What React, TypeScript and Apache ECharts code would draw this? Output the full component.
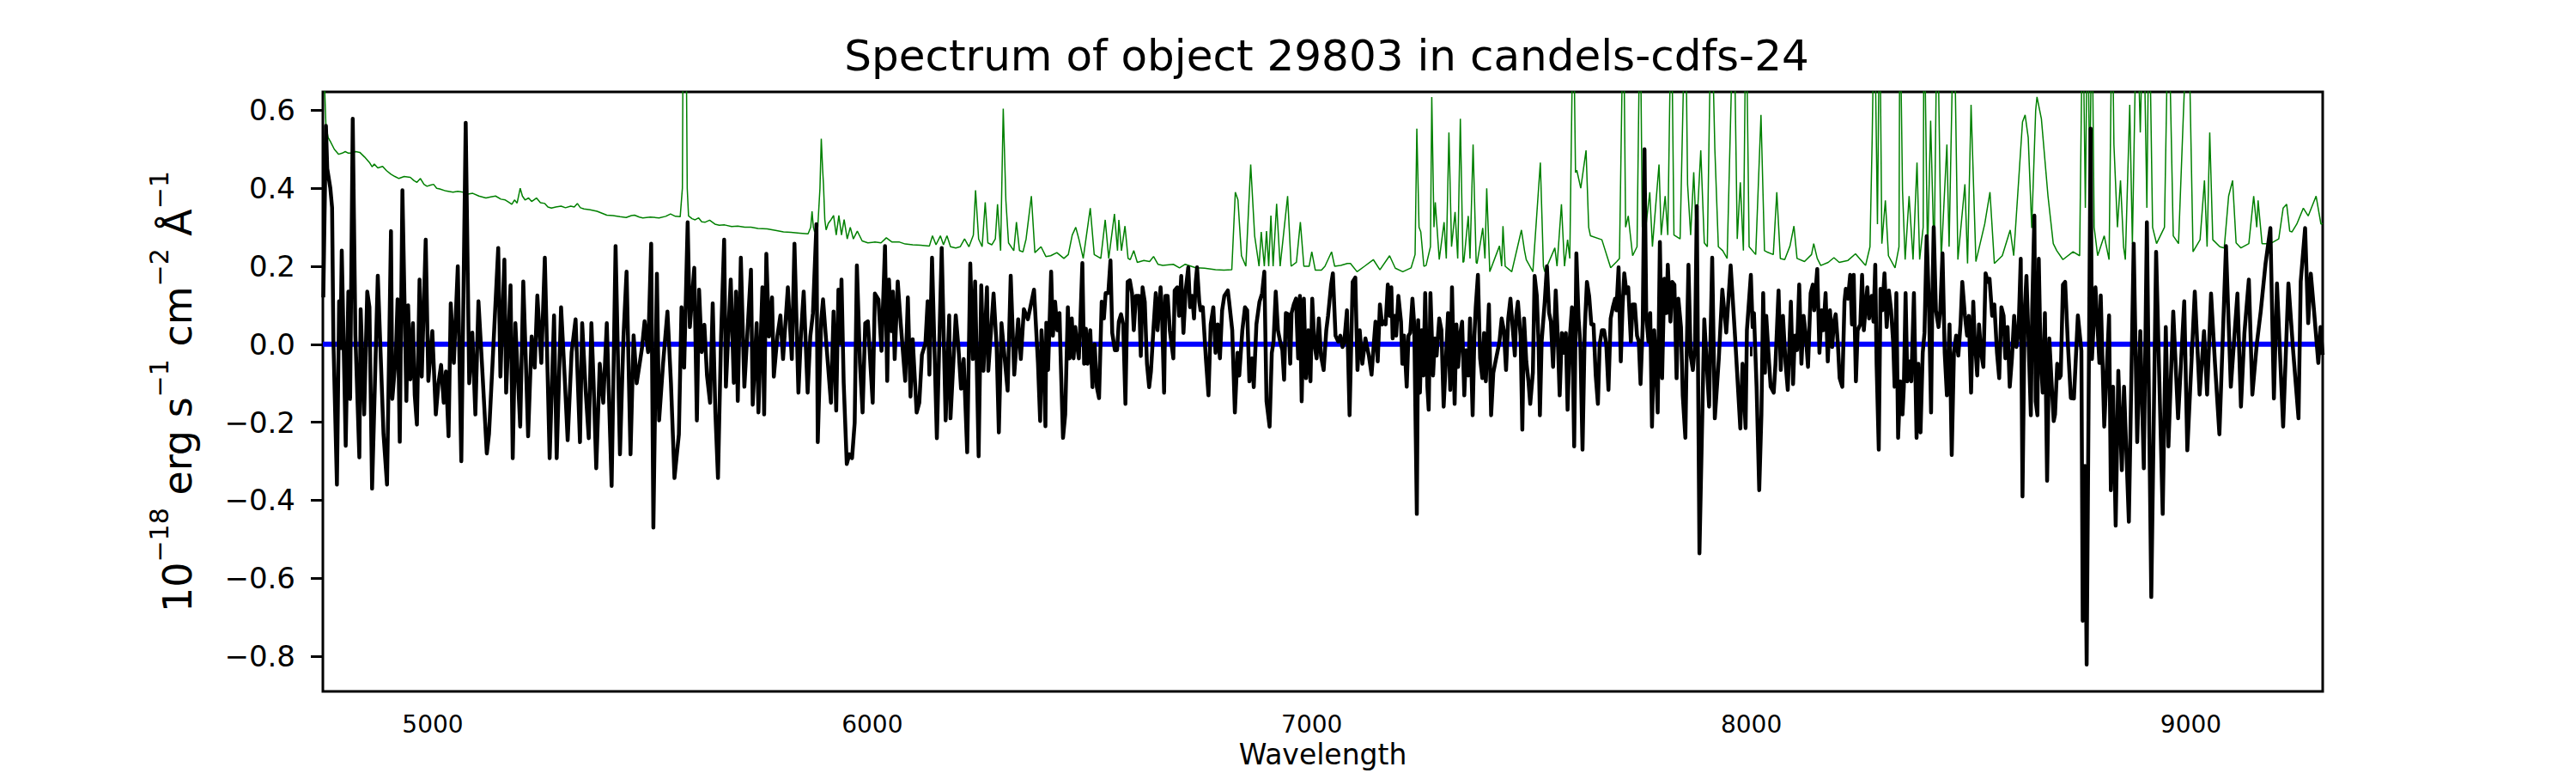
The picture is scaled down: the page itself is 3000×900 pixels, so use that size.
import React, { useEffect, useRef } from "react";
import * as echarts from "echarts";

const TITLE = "Spectrum of object 29803 in candels-cdfs-24";
const X_NAME = "Wavelength";
const X_MIN = 4750;
const X_MAX = 9300;
const Y_MIN = -0.89;
const Y_MAX = 0.647;
const X_TICKS = [5000, 6000, 7000, 8000, 9000];
const Y_TICKS = [-0.8, -0.6, -0.4, -0.2, 0, 0.2, 0.4, 0.6];
const ZERO_LINE = [[4750, 0], [9300, 0]];

// observed flux (black), wavelength in Angstrom
const FLUX_A = [
  [4751, 0.12], [4757, 0.56], [4760, 0.45], [4767, 0.40], [4771, 0.35], [4774, 0.01], [4782, -0.36], [4787, 0.11], [4790, -0.01], [4793, 0.24],
  [4802, -0.26], [4808, 0.135], [4812, -0.14], [4818, 0.578], [4824, 0.023], [4833, -0.29], [4836, 0.09], [4844, -0.18], [4851, 0.135], [4856, 0.095],
  [4862, -0.37], [4875, 0.176], [4888, -0.23], [4896, -0.36], [4905, 0.29], [4908, -0.14], [4916, -0.03], [4920, 0.115], [4925, -0.25], [4931, 0.395],
  [4940, -0.145], [4944, 0.10], [4949, -0.09], [4955, 0.054], [4959, -0.13], [4964, -0.206], [4970, 0.166], [4975, -0.083], [4984, 0.268], [4990, -0.094],
  [4999, 0.034], [5007, -0.18], [5013, -0.10], [5019, -0.053], [5025, -0.15], [5030, -0.07], [5036, -0.236], [5041, 0.105], [5048, -0.048], [5057, 0.20],
  [5065, -0.30], [5075, 0.568], [5083, -0.10], [5090, 0.03], [5097, -0.18], [5104, 0.11], [5112, -0.05], [5123, -0.28], [5128, -0.23], [5136, -0.05],
  [5149, 0.247], [5154, -0.083], [5163, 0.217], [5167, -0.124], [5177, 0.151], [5182, -0.292], [5188, 0.054], [5199, -0.211], [5206, 0.161], [5212, -0.05],
  [5217, -0.236], [5225, 0.02], [5232, -0.06], [5238, 0.125], [5247, -0.048], [5255, 0.222], [5266, -0.292], [5276, 0.074], [5282, -0.292], [5292, 0.095],
  [5300, -0.08], [5307, -0.246], [5316, -0.02], [5325, 0.064], [5335, -0.251], [5340, 0.054], [5348, -0.12], [5355, -0.241], [5361, 0.054], [5366, -0.10],
  [5372, -0.318], [5380, -0.05], [5388, -0.15], [5396, 0.054], [5407, -0.363], [5416, 0.252], [5426, -0.282], [5434, 0.02], [5441, 0.186], [5450, -0.282],
  [5457, 0.023], [5464, -0.10], [5471, -0.048], [5476, -0.01], [5482, 0.059], [5490, -0.02], [5497, 0.258], [5502, -0.47], [5510, 0.181], [5515, -0.195],
  [5524, -0.05], [5534, 0.084], [5542, -0.10], [5550, -0.343], [5560, -0.231], [5566, 0.095], [5572, -0.06], [5580, 0.313], [5585, 0.044], [5595, 0.196],
  [5601, -0.195], [5606, 0.140], [5612, -0.02], [5618, 0.05], [5624, -0.08], [5631, -0.150], [5637, 0.105], [5643, -0.175], [5649, -0.343], [5656, 0.02],
  [5663, 0.268], [5667, -0.109], [5678, 0.166], [5685, -0.099], [5690, 0.135], [5694, -0.145], [5701, 0.222], [5709, -0.109], [5716, 0.03], [5724, 0.191],
  [5728, -0.155], [5737, 0.054], [5741, -0.175], [5750, 0.146], [5754, -0.18], [5759, 0.232], [5765, 0.02], [5772, 0.120], [5776, -0.083], [5784, 0.02],
  [5791, 0.074], [5797, -0.038], [5808, 0.146], [5817, -0.038], [5823, 0.258], [5832, -0.124], [5838, 0.03], [5844, 0.135], [5853, -0.124], [5859, 0.02],
  [5865, 0.079], [5873, 0.308], [5876, -0.251], [5884, 0.064], [5888, 0.115], [5897, -0.02], [5906, -0.150],
];

const FLUX_B = [
  [5912, 0.084], [5918, -0.170], [5923, 0.140], [5927, 0.003], [5930, 0.166], [5935, -0.099], [5942, -0.307], [5948, -0.282], [5954, -0.292], [5960, -0.201],
  [5965, 0.202], [5972, -0.048], [5978, -0.175], [5984, 0.054], [5990, 0.059], [6001, -0.150], [6006, 0.130], [6014, 0.115], [6021, -0.017], [6029, 0.252],
  [6034, -0.094], [6038, 0.166], [6043, 0.034], [6047, 0.135], [6051, -0.038], [6058, 0.161], [6064, 0.064], [6075, -0.094], [6081, 0.120], [6087, -0.134],
  [6092, 0.013], [6101, -0.175], [6107, -0.150], [6113, -0.027], [6121, 0.003], [6126, 0.110], [6130, -0.078], [6136, 0.222], [6147, -0.241], [6158, 0.247],
  [6167, -0.195], [6175, 0.074], [6178, -0.190], [6190, 0.074], [6196, -0.007], [6202, -0.114], [6208, -0.038], [6216, -0.277], [6223, 0.207], [6229, -0.038],
  [6234, 0.161], [6242, -0.287], [6248, 0.151], [6253, -0.068], [6261, 0.146], [6264, -0.068], [6276, 0.130], [6283, -0.007], [6288, -0.226], [6294, 0.054],
  [6308, -0.119], [6315, 0.176], [6323, -0.078], [6332, 0.064], [6338, -0.038], [6345, 0.090], [6354, 0.064], [6368, 0.140], [6377, -0.048],
];

const FLUX_C = [
  [6382, -0.197], [6385, 0.036], [6390, -0.05], [6394, -0.21], [6396, 0.055], [6400, -0.066], [6407, 0.186], [6411, 0.022], [6416, 0.109], [6421, 0.036],
  [6426, 0.08], [6429, -0.05], [6434, -0.24], [6439, -0.18], [6445, 0.095], [6449, -0.036], [6454, 0.066], [6458, -0.036], [6462, 0.044], [6465, 0.007],
  [6470, -0.036], [6473, 0.044], [6478, 0.208], [6482, -0.05], [6486, 0.04], [6490, -0.05], [6496, 0.036], [6501, -0.11], [6506, 0.0], [6511, -0.11],
  [6516, -0.138], [6522, 0.109], [6527, 0.066], [6531, 0.131], [6537, 0.131], [6542, 0.215], [6546, 0.029], [6552, -0.015], [6557, -0.015], [6561, 0.058],
  [6566, 0.077], [6571, 0.051], [6576, -0.153], [6581, 0.16], [6586, 0.164], [6591, 0.131], [6595, 0.036], [6600, 0.124], [6607, 0.124], [6611, -0.03],
  [6615, 0.146], [6620, 0.109], [6625, -0.05], [6630, -0.11], [6634, -0.07], [6640, 0.044], [6645, 0.131], [6649, 0.036], [6656, 0.146], [6659, 0.087],
  [6664, -0.124], [6667, 0.124], [6672, 0.124], [6677, 0.036], [6685, -0.036], [6688, 0.138], [6694, 0.146], [6698, 0.073], [6703, 0.175], [6708, 0.029],
  [6713, 0.138], [6719, 0.197], [6723, 0.095], [6728, 0.124], [6732, 0.066], [6736, 0.16], [6739, 0.197], [6744, 0.109], [6747, 0.087], [6752, 0.095],
  [6759, -0.036], [6765, -0.131], [6770, 0.051], [6776, 0.095], [6781, -0.022], [6786, 0.051], [6791, -0.036], [6796, 0.087], [6801, 0.124], [6809, 0.138],
  [6812, 0.109], [6819, 0.036], [6825, -0.175], [6831, -0.022], [6835, -0.08], [6842, 0.036], [6848, 0.095], [6853, 0.087], [6858, -0.095], [6864, -0.036],
  [6868, -0.11], [6874, 0.051], [6881, 0.109], [6887, 0.131], [6892, 0.186], [6897, -0.146], [6904, -0.211], [6909, -0.022], [6913, 0.007], [6918, 0.135],
  [6923, 0.036], [6928, 0.007], [6933, -0.015], [6937, -0.091], [6941, 0.08], [6946, 0.077], [6951, -0.05], [6954, 0.08], [6959, 0.102], [6964, 0.117],
  [6969, -0.036], [6973, 0.124], [6977, -0.146], [6982, 0.117], [6987, -0.087], [6992, 0.036], [6997, -0.095], [7001, 0.117], [7006, 0.0], [7011, -0.036],
  [7016, 0.066], [7021, -0.03], [7027, -0.066], [7033, 0.036], [7037, 0.073], [7044, 0.153], [7048, 0.182], [7054, 0.022], [7060, 0.007], [7065, 0.022],
  [7070, -0.007], [7074, 0.007], [7080, 0.087],
];

const FLUX_D = [
  [7086, -0.182], [7093, 0.16], [7099, 0.171], [7104, -0.066], [7109, 0.036], [7115, -0.05], [7122, 0.015], [7130, -0.03], [7136, -0.078], [7141, 0.0],
  [7145, 0.058], [7150, -0.044], [7155, 0.102], [7160, 0.051], [7164, 0.058], [7168, 0.051], [7173, 0.153], [7177, 0.073], [7181, 0.146], [7184, 0.015],
  [7189, 0.073], [7192, 0.022], [7197, 0.124], [7203, 0.058], [7206, -0.05], [7210, 0.022], [7216, -0.109], [7220, 0.022], [7224, 0.029], [7229, 0.117],
  [7233, 0.051], [7239, -0.435], [7242, 0.062], [7246, -0.124], [7250, 0.036], [7254, -0.08], [7258, 0.131], [7263, -0.109], [7266, -0.168], [7270, 0.131],
  [7276, -0.08], [7280, 0.015], [7284, -0.029], [7290, 0.066], [7295, 0.036], [7300, -0.16], [7305, -0.044], [7310, 0.08], [7315, -0.117], [7319, 0.146],
  [7325, -0.153], [7329, 0.051], [7333, -0.058], [7338, 0.029], [7342, 0.058], [7347, -0.131], [7351, -0.015], [7356, -0.08], [7360, 0.066], [7366, -0.182],
  [7370, 0.022], [7373, 0.095], [7378, 0.178], [7383, -0.036], [7388, -0.087], [7392, 0.029], [7396, -0.095], [7403, 0.102], [7408, -0.182], [7413, -0.073],
  [7418, -0.044], [7422, -0.022], [7427, 0.007], [7432, 0.066], [7437, 0.036], [7442, -0.066], [7447, 0.066], [7452, 0.117], [7456, 0.058], [7462, -0.029],
  [7465, 0.073], [7469, 0.109], [7475, 0.022], [7479, -0.219], [7483, 0.066], [7488, -0.044], [7493, -0.095], [7497, -0.153], [7503, -0.073], [7507, 0.175],
  [7512, 0.124], [7516, 0.0], [7519, -0.182], [7523, 0.007], [7530, 0.109], [7535, 0.2], [7540, 0.08], [7544, 0.058], [7549, -0.058], [7555, 0.138],
  [7559, 0.036], [7564, -0.131], [7569, 0.029], [7574, -0.022], [7578, 0.029], [7582, -0.168], [7587, 0.015], [7592, 0.095], [7597, -0.262], [7602, 0.233],
  [7607, 0.066], [7611, 0.0], [7616, -0.27], [7621, 0.036], [7626, 0.16], [7631, 0.124], [7636, 0.051], [7641, 0.051], [7646, -0.08], [7651, -0.153],
  [7655, 0.0], [7660, 0.036], [7665, 0.036], [7670, 0.0], [7675, -0.117], [7680, 0.066], [7685, 0.095], [7690, 0.117], [7693, 0.087], [7698, 0.197],
  [7703, -0.044], [7707, 0.095], [7711, 0.182], [7716, 0.131], [7720, 0.146], [7726, 0.007], [7730, 0.102], [7735, 0.102], [7740, 0.022], [7744, 0.007],
  [7748, -0.102], [7753, 0.051], [7757, 0.50], [7761, 0.073], [7766, 0.007], [7770, 0.08], [7774, -0.211], [7779, 0.036], [7783, -0.044], [7787, -0.175],
  [7792, 0.262], [7797, -0.087], [7802, 0.168], [7807, 0.08], [7810, 0.204], [7816, 0.058], [7820, 0.16], [7825, 0.153], [7830, -0.087], [7834, 0.117],
  [7840, 0.044], [7844, -0.131], [7850, -0.24], [7853, -0.022], [7857, 0.204], [7862, -0.029], [7867, -0.066], [7872, 0.0], [7876, 0.354], [7882, -0.536],
  [7893, 0.064], [7904, -0.160], [7911, 0.222], [7917, -0.190], [7926, -0.038], [7934, 0.140], [7943, 0.03], [7953, 0.202], [7963, 0.02], [7975, -0.216],
  [7980, -0.05],
];

const FLUX_E = [
  [7987, -0.215], [7990, 0.036], [7999, 0.178], [8003, 0.044], [8006, 0.08], [8012, -0.109], [8018, -0.374], [8023, -0.18], [8027, 0.131], [8031, -0.073],
  [8034, 0.073], [8039, -0.022], [8044, -0.109], [8051, -0.124], [8055, -0.05], [8062, 0.138], [8067, -0.066], [8072, 0.073], [8078, -0.05], [8083, -0.117],
  [8090, 0.109], [8095, -0.102], [8099, 0.022], [8104, -0.015], [8109, 0.153], [8114, -0.05], [8119, 0.073], [8124, 0.022], [8129, -0.058], [8135, 0.131],
  [8140, 0.153], [8143, 0.087], [8150, 0.193], [8155, -0.022], [8160, 0.087], [8164, 0.036], [8169, 0.131], [8174, -0.044], [8179, 0.087], [8184, -0.007],
  [8188, 0.058], [8192, 0.077], [8197, 0.0], [8201, -0.087], [8207, -0.109], [8212, 0.109], [8215, 0.142], [8220, 0.117], [8225, 0.178], [8229, 0.051],
  [8233, 0.178], [8238, -0.095], [8242, 0.036], [8248, 0.051], [8252, 0.178], [8256, 0.036], [8261, 0.109], [8264, 0.146], [8268, 0.066], [8274, 0.124],
  [8278, 0.058], [8282, 0.204], [8285, -0.05], [8290, -0.27], [8294, 0.142], [8298, 0.087], [8303, 0.182], [8308, 0.044], [8313, 0.138], [8318, 0.087],
  [8323, 0.0], [8326, -0.109], [8330, 0.131], [8334, -0.24], [8339, -0.095], [8344, -0.18], [8347, -0.109], [8351, 0.131], [8355, -0.095], [8360, -0.044],
  [8364, -0.095], [8370, 0.131], [8376, -0.24], [8380, -0.05], [8385, -0.226], [8390, -0.022], [8394, 0.029], [8399, 0.277], [8404, 0.109], [8409, -0.175],
  [8412, 0.124], [8415, 0.3], [8420, 0.087], [8426, 0.044], [8430, 0.087], [8435, 0.233], [8440, -0.022], [8445, -0.131], [8451, 0.051], [8456, -0.284],
  [8461, -0.022], [8466, 0.022], [8471, -0.029], [8476, 0.051], [8480, 0.16], [8486, 0.073], [8491, 0.022], [8495, 0.073], [8500, -0.124], [8505, 0.109],
  [8508, 0.022], [8514, -0.08], [8518, 0.051], [8523, -0.022], [8528, -0.058], [8533, 0.182], [8538, 0.16], [8542, 0.168], [8548, 0.073], [8553, 0.102],
  [8559, -0.022], [8564, -0.087], [8569, 0.095], [8574, 0.073], [8578, -0.036], [8583, 0.044], [8588, -0.109], [8593, -0.036], [8598, 0.073], [8603, -0.007],
  [8608, 0.036], [8613, 0.219], [8617, -0.39], [8622, 0.087], [8626, 0.175], [8630, 0.036], [8636, -0.182], [8639, 0.087], [8644, 0.33], [8647, -0.146],
  [8651, -0.182], [8654, 0.219], [8658, -0.022], [8663, -0.124], [8668, 0.08], [8673, -0.35], [8678, 0.015], [8683, -0.095], [8688, -0.197], [8691, -0.18],
  [8696, -0.05], [8701, -0.087], [8704, -0.08], [8709, 0.153], [8714, 0.16], [8720, 0.007], [8727, -0.138],
];

const FLUX_F = [
  [8734, -0.139], [8743, 0.074], [8751, -0.017], [8754, -0.709], [8759, -0.312], [8763, -0.821], [8772, 0.553], [8775, -0.038], [8783, 0.146], [8792, -0.048],
  [8795, 0.125], [8803, -0.211], [8814, 0.074], [8818, -0.374], [8823, -0.109], [8829, -0.465], [8835, -0.068], [8843, -0.323], [8848, -0.109], [8859, -0.455],
  [8870, 0.258], [8878, -0.251], [8885, 0.034], [8893, -0.318], [8900, 0.313], [8910, -0.648], [8921, 0.237], [8936, -0.435], [8943, 0.044], [8949, -0.262],
  [8960, 0.084], [8971, -0.190], [8985, 0.110], [8992, -0.272], [9009, 0.135], [9020, -0.129], [9030, 0.034], [9037, -0.129], [9046, 0.130], [9055, -0.05],
  [9065, -0.231], [9080, 0.252], [9091, -0.109], [9106, 0.130], [9114, -0.160], [9122, 0.03], [9132, 0.166], [9140, -0.129], [9150, 0.0], [9159, 0.084],
  [9170, 0.207], [9181, 0.298], [9189, -0.139], [9196, 0.156], [9210, -0.211], [9222, 0.156], [9233, -0.02], [9245, -0.190], [9250, 0.161], [9260, 0.298],
  [9267, 0.054], [9273, 0.181], [9280, 0.09], [9290, -0.048], [9295, 0.044], [9300, -0.027],
];

// model / sky (green)
const SKY_A = [
  [4751, 0.80], [4754, 0.66], [4757, 0.56], [4762, 0.53], [4767, 0.52], [4776, 0.50], [4786, 0.487], [4794, 0.49], [4801, 0.494], [4808, 0.49],
  [4815, 0.49], [4825, 0.494], [4834, 0.492], [4845, 0.48], [4856, 0.466], [4862, 0.455], [4867, 0.462], [4875, 0.452], [4886, 0.456], [4895, 0.445],
  [4905, 0.436], [4914, 0.43], [4923, 0.425], [4935, 0.43], [4949, 0.428], [4957, 0.42], [4964, 0.415], [4972, 0.425], [4980, 0.41], [4987, 0.405],
  [4995, 0.408], [5002, 0.41], [5009, 0.40], [5016, 0.398], [5030, 0.393], [5046, 0.39], [5057, 0.392], [5069, 0.39], [5080, 0.385], [5091, 0.387],
  [5105, 0.38], [5121, 0.375], [5132, 0.378], [5143, 0.38], [5155, 0.372], [5165, 0.37], [5172, 0.365], [5180, 0.359], [5186, 0.37], [5192, 0.362],
  [5199, 0.40], [5204, 0.38], [5210, 0.37], [5218, 0.375], [5225, 0.366], [5236, 0.375], [5245, 0.363], [5255, 0.361], [5262, 0.352], [5270, 0.349],
  [5280, 0.352], [5292, 0.354], [5302, 0.35], [5314, 0.354], [5322, 0.352], [5329, 0.361], [5336, 0.35], [5344, 0.347], [5358, 0.345], [5374, 0.341],
  [5385, 0.336], [5396, 0.331], [5410, 0.33], [5426, 0.327], [5440, 0.325], [5452, 0.33], [5459, 0.331], [5470, 0.326], [5478, 0.324], [5495, 0.326],
  [5515, 0.324], [5530, 0.328], [5541, 0.334], [5552, 0.328], [5563, 0.327], [5568, 0.40], [5570, 0.90], [5576, 0.90], [5579, 0.40], [5582, 0.329],
  [5590, 0.322], [5597, 0.319], [5605, 0.324], [5612, 0.314], [5620, 0.313], [5630, 0.318], [5642, 0.308], [5652, 0.305], [5664, 0.306], [5680, 0.302],
  [5694, 0.303], [5710, 0.300], [5724, 0.300], [5740, 0.297], [5761, 0.296], [5780, 0.292], [5798, 0.288], [5815, 0.287], [5835, 0.285], [5854, 0.283],
  [5860, 0.30], [5863, 0.341], [5866, 0.30], [5869, 0.288], [5876, 0.30], [5881, 0.40], [5884, 0.527], [5887, 0.45], [5889, 0.41], [5892, 0.32],
  [5895, 0.293], [5900, 0.31], [5906, 0.319],
];

const SKY_B = [
  [5912, 0.33], [5918, 0.28], [5924, 0.33], [5930, 0.28], [5936, 0.32], [5943, 0.27], [5950, 0.30], [5957, 0.27], [5966, 0.29], [5977, 0.265],
  [5990, 0.26], [6006, 0.262], [6020, 0.26], [6032, 0.273], [6045, 0.262], [6062, 0.262], [6075, 0.257], [6092, 0.255], [6110, 0.254], [6130, 0.252],
  [6137, 0.278], [6145, 0.255], [6155, 0.278], [6162, 0.255], [6170, 0.278], [6178, 0.25], [6190, 0.247], [6200, 0.25], [6210, 0.27], [6220, 0.25],
  [6230, 0.28], [6235, 0.395], [6242, 0.27], [6250, 0.25], [6257, 0.364], [6263, 0.26], [6272, 0.255], [6280, 0.27], [6285, 0.359], [6292, 0.24],
  [6298, 0.604], [6304, 0.369], [6310, 0.26], [6322, 0.24], [6328, 0.313], [6335, 0.24], [6343, 0.237], [6350, 0.27], [6362, 0.380], [6370, 0.235],
  [6384, 0.25], [6395, 0.225], [6406, 0.227], [6420, 0.235], [6436, 0.22], [6446, 0.23], [6455, 0.28], [6463, 0.30], [6470, 0.27], [6480, 0.22],
  [6496, 0.349], [6505, 0.23], [6520, 0.22], [6530, 0.319], [6538, 0.22], [6551, 0.334], [6558, 0.24], [6561, 0.319], [6567, 0.24], [6575, 0.303],
  [6582, 0.22], [6587, 0.217], [6595, 0.24], [6603, 0.21], [6618, 0.215], [6631, 0.212], [6640, 0.225], [6650, 0.205], [6661, 0.202], [6685, 0.205],
  [6699, 0.196], [6712, 0.205], [6736, 0.196], [6756, 0.195], [6781, 0.191], [6800, 0.19], [6818, 0.191], [6826, 0.39], [6832, 0.37], [6840, 0.227],
  [6850, 0.20], [6861, 0.461], [6870, 0.278], [6880, 0.20], [6885, 0.288], [6892, 0.20], [6897, 0.29], [6902, 0.20], [6907, 0.33], [6912, 0.20],
  [6920, 0.36], [6928, 0.20], [6945, 0.380], [6953, 0.20], [6965, 0.21], [6974, 0.313], [6982, 0.20], [6994, 0.20], [7000, 0.237], [7008, 0.19],
  [7022, 0.19], [7030, 0.20], [7045, 0.237], [7052, 0.20], [7066, 0.202], [7081, 0.207],
];

const SKY_C = [
  [7088, 0.207], [7103, 0.186], [7120, 0.20], [7140, 0.217], [7155, 0.191], [7177, 0.227], [7190, 0.195], [7207, 0.186], [7226, 0.196], [7235, 0.23],
  [7239, 0.553], [7244, 0.30], [7248, 0.288], [7255, 0.20], [7260, 0.202], [7270, 0.25], [7273, 0.634], [7278, 0.30], [7281, 0.364], [7290, 0.217],
  [7301, 0.313], [7306, 0.22], [7312, 0.543], [7318, 0.25], [7326, 0.339], [7332, 0.22], [7338, 0.578], [7344, 0.21], [7346, 0.212], [7356, 0.329],
  [7360, 0.22], [7367, 0.512], [7374, 0.21], [7376, 0.207], [7389, 0.298], [7394, 0.22], [7398, 0.400], [7405, 0.186], [7427, 0.252], [7432, 0.20],
  [7435, 0.303], [7440, 0.20], [7455, 0.186], [7477, 0.293], [7484, 0.24], [7488, 0.217], [7503, 0.186], [7520, 0.466], [7527, 0.20], [7530, 0.186],
  [7553, 0.247], [7558, 0.20], [7568, 0.359], [7575, 0.20], [7582, 0.268], [7587, 0.22], [7595, 0.90], [7600, 0.44], [7603, 0.446], [7612, 0.40],
  [7624, 0.497], [7630, 0.30], [7634, 0.278], [7660, 0.268], [7680, 0.196], [7694, 0.212], [7700, 0.22], [7709, 0.90], [7714, 0.30], [7720, 0.329],
  [7730, 0.227], [7740, 0.25], [7747, 0.90], [7752, 0.30], [7760, 0.30], [7769, 0.390], [7775, 0.25], [7790, 0.461], [7795, 0.28], [7804, 0.380],
  [7810, 0.28], [7818, 0.90], [7824, 0.28], [7838, 0.27], [7850, 0.90], [7855, 0.410], [7862, 0.28], [7869, 0.441], [7875, 0.28], [7885, 0.497],
  [7893, 0.26], [7900, 0.25], [7909, 0.90], [7917, 0.502], [7925, 0.25], [7935, 0.24], [7945, 0.22], [7960, 0.90], [7968, 0.27], [7975, 0.415],
  [7982, 0.24], [7988, 0.90], [7995, 0.25], [8010, 0.23], [8022, 0.588], [8030, 0.24], [8035, 0.237], [8050, 0.23], [8058, 0.390], [8066, 0.22],
  [8076, 0.217], [8088, 0.252], [8097, 0.303], [8104, 0.22], [8121, 0.212], [8137, 0.23], [8142, 0.258], [8150, 0.22], [8158, 0.202], [8175, 0.21],
  [8188, 0.222], [8200, 0.21], [8220, 0.215], [8237, 0.232], [8256, 0.207],
];

const SKY_D = [
  [8260, 0.202], [8270, 0.25], [8275, 0.527], [8280, 0.90], [8287, 0.308], [8292, 0.90], [8297, 0.258], [8305, 0.369], [8312, 0.227], [8327, 0.196],
  [8336, 0.25], [8338, 0.90], [8344, 0.395], [8350, 0.217], [8359, 0.380], [8368, 0.217], [8377, 0.466], [8383, 0.217], [8391, 0.30], [8393, 0.90],
  [8401, 0.227], [8408, 0.573], [8416, 0.217], [8423, 0.90], [8432, 0.217], [8445, 0.512], [8450, 0.25], [8461, 0.90], [8470, 0.217], [8486, 0.410],
  [8492, 0.207], [8500, 0.614], [8511, 0.212], [8531, 0.308], [8543, 0.390], [8553, 0.207], [8571, 0.227], [8589, 0.293], [8597, 0.227], [8610, 0.45],
  [8617, 0.57], [8623, 0.588], [8630, 0.53], [8638, 0.298], [8647, 0.60], [8650, 0.634], [8660, 0.578], [8675, 0.380], [8687, 0.258], [8695, 0.24],
  [8709, 0.217], [8732, 0.237], [8747, 0.227], [8754, 0.90], [8760, 0.35], [8765, 0.90], [8770, 0.40], [8775, 0.90], [8780, 0.30], [8788, 0.227],
  [8803, 0.278], [8814, 0.217], [8821, 0.90], [8825, 0.512], [8833, 0.30], [8840, 0.420], [8847, 0.25], [8851, 0.217], [8861, 0.614], [8867, 0.258],
  [8877, 0.90], [8885, 0.543], [8892, 0.90], [8900, 0.35], [8905, 0.90], [8913, 0.30], [8922, 0.258], [8940, 0.30], [8949, 0.90], [8960, 0.278],
  [8972, 0.258], [8983, 0.588], [8994, 0.90], [9005, 0.237], [9021, 0.268], [9031, 0.420], [9037, 0.25], [9043, 0.543], [9050, 0.268], [9066, 0.25],
  [9076, 0.247], [9086, 0.380], [9095, 0.420], [9103, 0.26], [9114, 0.247], [9132, 0.258], [9143, 0.380], [9150, 0.30], [9153, 0.369], [9162, 0.258],
  [9181, 0.258], [9200, 0.27], [9210, 0.349], [9218, 0.359], [9225, 0.29], [9230, 0.288], [9241, 0.308], [9256, 0.349], [9267, 0.329], [9285, 0.380],
  [9296, 0.308], [9300, 0.31],
];

const FONT = "DejaVu Sans";

export default function App() {
  const ref = useRef<HTMLDivElement | null>(null);

  useEffect(() => {
    document.body.style.margin = "0";
    if (!ref.current) return;
    const chart = echarts.init(ref.current, null, { renderer: "svg" });
    const flux = [...FLUX_A, ...FLUX_B, ...FLUX_C, ...FLUX_D, ...FLUX_E, ...FLUX_F];
    const sky = [...SKY_A, ...SKY_B, ...SKY_C, ...SKY_D];
    const fmtY = (v: number) => v.toFixed(1).replace("-", "\u2212");

    chart.setOption({
      animation: false,
      backgroundColor: "#ffffff",
      title: {
        text: TITLE,
        left: 1540,
        top: 35,
        textAlign: "center",
        textStyle: { fontFamily: FONT, fontSize: 50, fontWeight: "normal", color: "#000" },
      },
      grid: {
        left: 376,
        right: 295,
        top: 107,
        bottom: 95,
        show: true,
        borderColor: "#000",
        borderWidth: 3,
        backgroundColor: "transparent",
      },
      xAxis: {
        type: "value",
        min: X_MIN,
        max: X_MAX,
        name: X_NAME,
        nameLocation: "middle",
        nameGap: 57,
        nameTextStyle: { fontFamily: FONT, fontSize: 33, color: "#000" },
        axisLine: { show: false },
        splitLine: { show: false },
        axisTick: {
          show: true,
          inside: false,
          length: 14,
          lineStyle: { color: "#000", width: 3 },
          customValues: X_TICKS,
        },
        axisLabel: {
          fontFamily: FONT,
          fontSize: 28,
          color: "#000",
          margin: 24,
          customValues: X_TICKS,
          formatter: (v: number) => String(v),
        },
      },
      yAxis: {
        type: "value",
        min: Y_MIN,
        max: Y_MAX,
        name: "{b|10}{s|\u221218}{b| erg s}{s|\u22121}{b| cm}{s|\u22122}{b| \u00c5}{s|\u22121}",
        nameLocation: "middle",
        nameRotate: 90,
        nameGap: 146,
        nameTextStyle: {
          fontFamily: FONT,
          color: "#000",
          rich: {
            b: { fontFamily: FONT, fontSize: 46, color: "#000", lineHeight: 54, verticalAlign: "bottom" },
            s: { fontFamily: FONT, fontSize: 30, color: "#000", lineHeight: 30, padding: [0, 0, 30, 0], verticalAlign: "bottom" },
          },
        },
        axisLine: { show: false },
        splitLine: { show: false },
        axisTick: {
          show: true,
          inside: false,
          length: 14,
          lineStyle: { color: "#000", width: 3 },
          customValues: Y_TICKS,
        },
        axisLabel: {
          fontFamily: FONT,
          fontSize: 34,
          color: "#000",
          margin: 32,
          customValues: Y_TICKS,
          formatter: fmtY,
        },
      },
      series: [
        {
          type: "line",
          data: sky,
          showSymbol: false,
          symbol: "none",
          clip: true,
          z: 2,
          lineStyle: { color: "#008000", width: 1.5 },
        },
        {
          type: "line",
          data: ZERO_LINE,
          showSymbol: false,
          symbol: "none",
          clip: true,
          z: 3,
          lineStyle: { color: "#0000ff", width: 6 },
        },
        {
          type: "line",
          data: flux,
          showSymbol: false,
          symbol: "none",
          clip: true,
          z: 4,
          lineStyle: { color: "#000000", width: 4.5, join: "round" },
        },
      ],
    });
    return () => chart.dispose();
  }, []);

  return <div ref={ref} style={{ width: 3000, height: 900 }} />;
}
